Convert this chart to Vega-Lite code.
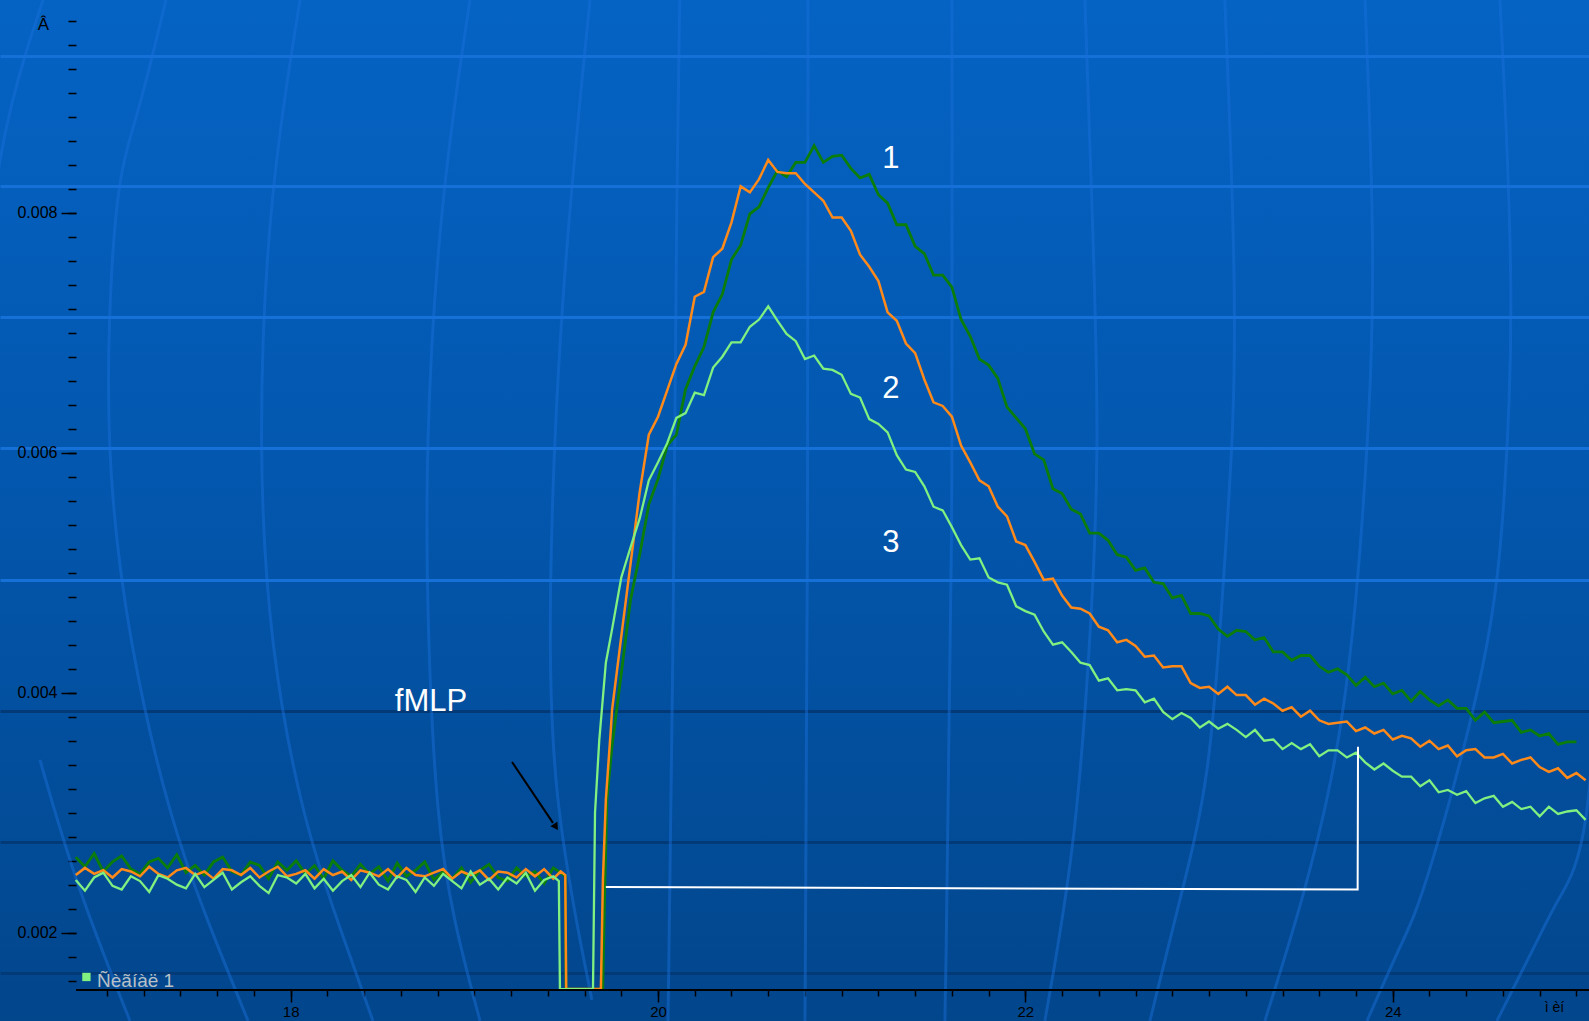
{
"$schema": "https://vega.github.io/schema/vega-lite/v6.json",
"width": 1589, "height": 1021, "autosize": "none", "padding": 0,
"background": "#0354a8",
"config": {
  "view": {"stroke": null, "fill": {"gradient": "linear", "x1": 0, "y1": 0, "x2": 0, "y2": 1, "stops": [{"offset": 0, "color": "#0563c4"}, {"offset": 0.5, "color": "#0356ac"}, {"offset": 1, "color": "#02468c"}]}},
  "axis": {"labelFont": "Liberation Sans", "titleFont": "Liberation Sans"},
  "text": {"font": "Liberation Sans"}
},
"datasets": {
"deco": [
{"id":"L0a","i":0,"t":16.652,"v":0.009773},{"id":"L0a","i":1,"t":16.434,"v":0.008773},{"id":"L0a","i":2,"t":16.309,"v":0.007273},
{"id":"L0b","i":0,"t":16.635,"v":0.00344},{"id":"L0b","i":1,"t":16.831,"v":0.002398},{"id":"L0b","i":2,"t":17.125,"v":0.001265},
{"id":"L1","i":0,"t":17.321,"v":0.009773},{"id":"L1","i":1,"t":17.163,"v":0.008773},{"id":"L1","i":2,"t":17.06,"v":0.008356},{"id":"L1","i":3,"t":17.005,"v":0.007106},{"id":"L1","i":4,"t":17.005,"v":0.005856},{"id":"L1","i":5,"t":17.114,"v":0.00444},{"id":"L1","i":6,"t":17.343,"v":0.00294},{"id":"L1","i":7,"t":17.544,"v":0.002106},{"id":"L1","i":8,"t":17.768,"v":0.001265},
{"id":"L2","i":0,"t":18.051,"v":0.009773},{"id":"L2","i":1,"t":17.876,"v":0.008106},{"id":"L2","i":2,"t":17.822,"v":0.006023},{"id":"L2","i":3,"t":17.887,"v":0.004356},{"id":"L2","i":4,"t":18.067,"v":0.00294},{"id":"L2","i":5,"t":18.252,"v":0.002106},{"id":"L2","i":6,"t":18.448,"v":0.001265},
{"id":"L3","i":0,"t":18.976,"v":0.009773},{"id":"L3","i":1,"t":18.813,"v":0.008106},{"id":"L3","i":2,"t":18.731,"v":0.006023},{"id":"L3","i":3,"t":18.748,"v":0.004356},{"id":"L3","i":4,"t":18.796,"v":0.00294},{"id":"L3","i":5,"t":18.884,"v":0.002106},{"id":"L3","i":6,"t":19.031,"v":0.001265},
{"id":"L4","i":0,"t":19.63,"v":0.009773},{"id":"L4","i":1,"t":19.466,"v":0.007273},{"id":"L4","i":2,"t":19.401,"v":0.004773},{"id":"L4","i":3,"t":19.423,"v":0.003106},{"id":"L4","i":4,"t":19.64,"v":0.00144},
{"id":"M0","i":0,"t":20.119,"v":0.009773},{"id":"M0","i":1,"t":20.103,"v":0.008606},{"id":"M0","i":2,"t":20.081,"v":0.00394},{"id":"M0","i":3,"t":20.054,"v":0.001265},
{"id":"M1","i":0,"t":20.816,"v":0.009773},{"id":"M1","i":1,"t":20.816,"v":0.00519},{"id":"M1","i":2,"t":20.8,"v":0.001265},
{"id":"M2","i":0,"t":21.6,"v":0.009773},{"id":"M2","i":1,"t":21.606,"v":0.00519},{"id":"M2","i":2,"t":21.562,"v":0.001265},
{"id":"M3","i":0,"t":22.324,"v":0.009773},{"id":"M3","i":1,"t":22.362,"v":0.008106},{"id":"M3","i":2,"t":22.406,"v":0.006023},{"id":"M3","i":3,"t":22.351,"v":0.004356},{"id":"M3","i":4,"t":22.27,"v":0.00269},{"id":"M3","i":5,"t":22.106,"v":0.001265},
{"id":"M4","i":0,"t":23.086,"v":0.009773},{"id":"M4","i":1,"t":23.141,"v":0.00769},{"id":"M4","i":2,"t":23.141,"v":0.006273},{"id":"M4","i":3,"t":23.07,"v":0.004773},{"id":"M4","i":4,"t":23.005,"v":0.003273},{"id":"M4","i":5,"t":22.841,"v":0.002273},{"id":"M4","i":6,"t":22.678,"v":0.001265},
{"id":"R1","i":0,"t":23.849,"v":0.009773},{"id":"R1","i":1,"t":23.903,"v":0.00769},{"id":"R1","i":2,"t":23.876,"v":0.006273},{"id":"R1","i":3,"t":23.783,"v":0.004356},{"id":"R1","i":4,"t":23.674,"v":0.003273},{"id":"R1","i":5,"t":23.511,"v":0.002273},{"id":"R1","i":6,"t":23.304,"v":0.001265},
{"id":"R2","i":0,"t":24.584,"v":0.009773},{"id":"R2","i":1,"t":24.665,"v":0.007273},{"id":"R2","i":2,"t":24.611,"v":0.005606},{"id":"R2","i":3,"t":24.54,"v":0.004356},{"id":"R2","i":4,"t":24.164,"v":0.002273},{"id":"R2","i":5,"t":24.055,"v":0.00194},{"id":"R2","i":6,"t":23.86,"v":0.001265},
{"id":"R3","i":0,"t":25.128,"v":0.004773},{"id":"R3","i":1,"t":25.073,"v":0.00269},{"id":"R3","i":2,"t":24.894,"v":0.002273},{"id":"R3","i":3,"t":24.79,"v":0.00194},{"id":"R3","i":4,"t":24.567,"v":0.001265}
],
"sig": [
{"s":1,"t":16.83,"v":0.00263},{"s":1,"t":16.88,"v":0.00255},{"s":1,"t":16.93,"v":0.00266},{"s":1,"t":16.98,"v":0.00251},{"s":1,"t":17.03,"v":0.00259},{"s":1,"t":17.08,"v":0.00264},{"s":1,"t":17.13,"v":0.00253},{"s":1,"t":17.18,"v":0.00249},{"s":1,"t":17.23,"v":0.00259},{"s":1,"t":17.28,"v":0.00262},
{"s":1,"t":17.33,"v":0.00254},{"s":1,"t":17.38,"v":0.00265},{"s":1,"t":17.43,"v":0.0025},{"s":1,"t":17.48,"v":0.00256},{"s":1,"t":17.53,"v":0.00248},{"s":1,"t":17.58,"v":0.00259},{"s":1,"t":17.63,"v":0.00263},{"s":1,"t":17.68,"v":0.00251},{"s":1,"t":17.73,"v":0.00248},{"s":1,"t":17.78,"v":0.00259},
{"s":1,"t":17.83,"v":0.00256},{"s":1,"t":17.88,"v":0.00245},{"s":1,"t":17.93,"v":0.00259},{"s":1,"t":17.98,"v":0.00252},{"s":1,"t":18.03,"v":0.0026},{"s":1,"t":18.08,"v":0.00249},{"s":1,"t":18.13,"v":0.00256},{"s":1,"t":18.18,"v":0.00245},{"s":1,"t":18.23,"v":0.0026},{"s":1,"t":18.28,"v":0.00252},
{"s":1,"t":18.33,"v":0.00247},{"s":1,"t":18.38,"v":0.00257},{"s":1,"t":18.43,"v":0.00249},{"s":1,"t":18.48,"v":0.00255},{"s":1,"t":18.53,"v":0.00243},{"s":1,"t":18.58,"v":0.00258},{"s":1,"t":18.63,"v":0.00247},{"s":1,"t":18.68,"v":0.00252},{"s":1,"t":18.73,"v":0.00259},{"s":1,"t":18.78,"v":0.00244},
{"s":1,"t":18.83,"v":0.00251},{"s":1,"t":18.88,"v":0.00245},{"s":1,"t":18.93,"v":0.00254},{"s":1,"t":18.98,"v":0.00242},{"s":1,"t":19.03,"v":0.00252},{"s":1,"t":19.08,"v":0.00257},{"s":1,"t":19.13,"v":0.00246},{"s":1,"t":19.18,"v":0.00243},{"s":1,"t":19.23,"v":0.00254},{"s":1,"t":19.28,"v":0.00247},
{"s":1,"t":19.33,"v":0.00251},{"s":1,"t":19.38,"v":0.00241},{"s":1,"t":19.43,"v":0.00254},{"s":1,"t":19.47,"v":0.0025},{"s":1,"t":19.495,"v":0.00247},{"s":1,"t":19.499,"v":0.00153},{"s":1,"t":19.699,"v":0.00153},{"s":1,"t":19.711,"v":0.00244},{"s":1,"t":19.722,"v":0.00311},
{"s":1,"t":19.75,"v":0.00356},{"s":1,"t":19.8,"v":0.00416},{"s":1,"t":19.85,"v":0.00477},{"s":1,"t":19.9,"v":0.00515},{"s":1,"t":19.95,"v":0.00557},{"s":1,"t":20,"v":0.00578},{"s":1,"t":20.05,"v":0.00606},{"s":1,"t":20.1,"v":0.00615},{"s":1,"t":20.15,"v":0.00653},{"s":1,"t":20.2,"v":0.00672},
{"s":1,"t":20.25,"v":0.00688},{"s":1,"t":20.3,"v":0.00717},{"s":1,"t":20.35,"v":0.00732},{"s":1,"t":20.4,"v":0.00761},{"s":1,"t":20.45,"v":0.00773},{"s":1,"t":20.5,"v":0.00799},{"s":1,"t":20.55,"v":0.00805},{"s":1,"t":20.6,"v":0.00821},{"s":1,"t":20.65,"v":0.00835},{"s":1,"t":20.7,"v":0.0083},
{"s":1,"t":20.75,"v":0.00842},{"s":1,"t":20.8,"v":0.00842},{"s":1,"t":20.85,"v":0.00856},{"s":1,"t":20.9,"v":0.00842},{"s":1,"t":20.95,"v":0.00847},{"s":1,"t":21,"v":0.00848},{"s":1,"t":21.05,"v":0.00837},{"s":1,"t":21.1,"v":0.00829},{"s":1,"t":21.15,"v":0.00832},{"s":1,"t":21.2,"v":0.00815},
{"s":1,"t":21.25,"v":0.00808},{"s":1,"t":21.3,"v":0.0079},{"s":1,"t":21.35,"v":0.0079},{"s":1,"t":21.4,"v":0.00772},{"s":1,"t":21.45,"v":0.00766},{"s":1,"t":21.5,"v":0.00748},{"s":1,"t":21.55,"v":0.00748},{"s":1,"t":21.6,"v":0.00738},{"s":1,"t":21.65,"v":0.00711},{"s":1,"t":21.7,"v":0.00697},
{"s":1,"t":21.75,"v":0.00678},{"s":1,"t":21.8,"v":0.00673},{"s":1,"t":21.85,"v":0.00662},{"s":1,"t":21.9,"v":0.00638},{"s":1,"t":21.95,"v":0.00629},{"s":1,"t":22,"v":0.0062},{"s":1,"t":22.05,"v":0.00599},{"s":1,"t":22.1,"v":0.00594},{"s":1,"t":22.15,"v":0.0057},{"s":1,"t":22.2,"v":0.00566},
{"s":1,"t":22.25,"v":0.00553},{"s":1,"t":22.3,"v":0.00549},{"s":1,"t":22.35,"v":0.00533},{"s":1,"t":22.4,"v":0.00533},{"s":1,"t":22.45,"v":0.00527},{"s":1,"t":22.5,"v":0.00515},{"s":1,"t":22.55,"v":0.00513},{"s":1,"t":22.6,"v":0.00502},{"s":1,"t":22.65,"v":0.00504},{"s":1,"t":22.7,"v":0.00492},
{"s":1,"t":22.75,"v":0.00491},{"s":1,"t":22.8,"v":0.00479},{"s":1,"t":22.85,"v":0.00481},{"s":1,"t":22.9,"v":0.00466},{"s":1,"t":22.95,"v":0.00466},{"s":1,"t":23,"v":0.00464},{"s":1,"t":23.05,"v":0.00453},{"s":1,"t":23.1,"v":0.00447},{"s":1,"t":23.15,"v":0.00452},{"s":1,"t":23.2,"v":0.00451},
{"s":1,"t":23.25,"v":0.00444},{"s":1,"t":23.3,"v":0.00446},{"s":1,"t":23.35,"v":0.00434},{"s":1,"t":23.4,"v":0.00434},{"s":1,"t":23.45,"v":0.00427},{"s":1,"t":23.5,"v":0.00431},{"s":1,"t":23.55,"v":0.00431},{"s":1,"t":23.6,"v":0.00422},{"s":1,"t":23.65,"v":0.00417},{"s":1,"t":23.7,"v":0.0042},
{"s":1,"t":23.75,"v":0.00415},{"s":1,"t":23.8,"v":0.00406},{"s":1,"t":23.85,"v":0.00413},{"s":1,"t":23.9,"v":0.00405},{"s":1,"t":23.95,"v":0.00408},{"s":1,"t":24,"v":0.00399},{"s":1,"t":24.05,"v":0.00402},{"s":1,"t":24.1,"v":0.00393},{"s":1,"t":24.15,"v":0.00401},{"s":1,"t":24.2,"v":0.00394},
{"s":1,"t":24.25,"v":0.00389},{"s":1,"t":24.3,"v":0.00394},{"s":1,"t":24.35,"v":0.00387},{"s":1,"t":24.4,"v":0.00387},{"s":1,"t":24.45,"v":0.00377},{"s":1,"t":24.5,"v":0.00384},{"s":1,"t":24.55,"v":0.00375},{"s":1,"t":24.6,"v":0.00376},{"s":1,"t":24.65,"v":0.00377},{"s":1,"t":24.7,"v":0.00367},
{"s":1,"t":24.75,"v":0.00369},{"s":1,"t":24.8,"v":0.00364},{"s":1,"t":24.85,"v":0.00366},{"s":1,"t":24.9,"v":0.00357},{"s":1,"t":24.95,"v":0.00359},{"s":1,"t":25,"v":0.00359},

{"s":2,"t":16.83,"v":0.00248},{"s":2,"t":16.88,"v":0.00254},{"s":2,"t":16.93,"v":0.00249},{"s":2,"t":16.98,"v":0.00252},{"s":2,"t":17.03,"v":0.00246},{"s":2,"t":17.08,"v":0.00253},{"s":2,"t":17.13,"v":0.00251},{"s":2,"t":17.18,"v":0.00247},{"s":2,"t":17.23,"v":0.00255},{"s":2,"t":17.28,"v":0.00249},
{"s":2,"t":17.33,"v":0.00246},{"s":2,"t":17.38,"v":0.00252},{"s":2,"t":17.43,"v":0.00254},{"s":2,"t":17.48,"v":0.00248},{"s":2,"t":17.53,"v":0.00251},{"s":2,"t":17.58,"v":0.00245},{"s":2,"t":17.63,"v":0.00253},{"s":2,"t":17.68,"v":0.00252},{"s":2,"t":17.73,"v":0.00248},{"s":2,"t":17.78,"v":0.00254},
{"s":2,"t":17.83,"v":0.00246},{"s":2,"t":17.88,"v":0.00251},{"s":2,"t":17.93,"v":0.00255},{"s":2,"t":17.98,"v":0.00247},{"s":2,"t":18.03,"v":0.00249},{"s":2,"t":18.08,"v":0.00252},{"s":2,"t":18.13,"v":0.00245},{"s":2,"t":18.18,"v":0.00253},{"s":2,"t":18.23,"v":0.00248},{"s":2,"t":18.28,"v":0.00251},
{"s":2,"t":18.33,"v":0.00244},{"s":2,"t":18.38,"v":0.00252},{"s":2,"t":18.43,"v":0.0025},{"s":2,"t":18.48,"v":0.00247},{"s":2,"t":18.53,"v":0.00253},{"s":2,"t":18.58,"v":0.00246},{"s":2,"t":18.63,"v":0.00254},{"s":2,"t":18.68,"v":0.00248},{"s":2,"t":18.73,"v":0.00247},{"s":2,"t":18.78,"v":0.0025},
{"s":2,"t":18.83,"v":0.00253},{"s":2,"t":18.88,"v":0.00245},{"s":2,"t":18.93,"v":0.00251},{"s":2,"t":18.98,"v":0.00248},{"s":2,"t":19.03,"v":0.00252},{"s":2,"t":19.08,"v":0.00244},{"s":2,"t":19.13,"v":0.00251},{"s":2,"t":19.18,"v":0.0025},{"s":2,"t":19.23,"v":0.00246},{"s":2,"t":19.28,"v":0.00253},
{"s":2,"t":19.33,"v":0.00247},{"s":2,"t":19.38,"v":0.00253},{"s":2,"t":19.43,"v":0.00245},{"s":2,"t":19.47,"v":0.00251},{"s":2,"t":19.495,"v":0.00248},{"s":2,"t":19.5,"v":0.00153},{"s":2,"t":19.689,"v":0.00153},{"s":2,"t":19.7,"v":0.00244},{"s":2,"t":19.716,"v":0.00311},{"s":2,"t":19.743,"v":0.00369},
{"s":2,"t":19.75,"v":0.00386},{"s":2,"t":19.8,"v":0.00447},{"s":2,"t":19.85,"v":0.00507},{"s":2,"t":19.9,"v":0.00567},{"s":2,"t":19.95,"v":0.00615},{"s":2,"t":20,"v":0.0063},{"s":2,"t":20.05,"v":0.00652},{"s":2,"t":20.1,"v":0.00674},{"s":2,"t":20.15,"v":0.0069},{"s":2,"t":20.2,"v":0.0073},
{"s":2,"t":20.25,"v":0.00734},{"s":2,"t":20.3,"v":0.00763},{"s":2,"t":20.35,"v":0.0077},{"s":2,"t":20.4,"v":0.00792},{"s":2,"t":20.45,"v":0.00822},{"s":2,"t":20.5,"v":0.00817},{"s":2,"t":20.55,"v":0.00828},{"s":2,"t":20.6,"v":0.00844},{"s":2,"t":20.65,"v":0.00834},{"s":2,"t":20.7,"v":0.00833},
{"s":2,"t":20.75,"v":0.00833},{"s":2,"t":20.8,"v":0.00824},{"s":2,"t":20.85,"v":0.00817},{"s":2,"t":20.9,"v":0.0081},{"s":2,"t":20.95,"v":0.00796},{"s":2,"t":21,"v":0.00796},{"s":2,"t":21.05,"v":0.00785},{"s":2,"t":21.1,"v":0.00765},{"s":2,"t":21.15,"v":0.00755},{"s":2,"t":21.2,"v":0.00743},
{"s":2,"t":21.25,"v":0.00717},{"s":2,"t":21.3,"v":0.0071},{"s":2,"t":21.35,"v":0.00691},{"s":2,"t":21.4,"v":0.00683},{"s":2,"t":21.45,"v":0.00661},{"s":2,"t":21.5,"v":0.00642},{"s":2,"t":21.55,"v":0.00639},{"s":2,"t":21.6,"v":0.0063},{"s":2,"t":21.65,"v":0.00606},{"s":2,"t":21.7,"v":0.00592},
{"s":2,"t":21.75,"v":0.00577},{"s":2,"t":21.8,"v":0.00572},{"s":2,"t":21.85,"v":0.00555},{"s":2,"t":21.9,"v":0.00547},{"s":2,"t":21.95,"v":0.00526},{"s":2,"t":22,"v":0.00523},{"s":2,"t":22.05,"v":0.00509},{"s":2,"t":22.1,"v":0.00494},{"s":2,"t":22.15,"v":0.00495},{"s":2,"t":22.2,"v":0.00481},
{"s":2,"t":22.25,"v":0.00471},{"s":2,"t":22.3,"v":0.0047},{"s":2,"t":22.35,"v":0.00466},{"s":2,"t":22.4,"v":0.00455},{"s":2,"t":22.45,"v":0.00452},{"s":2,"t":22.5,"v":0.00442},{"s":2,"t":22.55,"v":0.00444},{"s":2,"t":22.6,"v":0.00439},{"s":2,"t":22.65,"v":0.0043},{"s":2,"t":22.7,"v":0.00431},
{"s":2,"t":22.75,"v":0.00421},{"s":2,"t":22.8,"v":0.00422},{"s":2,"t":22.85,"v":0.00422},{"s":2,"t":22.9,"v":0.00408},{"s":2,"t":22.95,"v":0.00404},{"s":2,"t":23,"v":0.00405},{"s":2,"t":23.05,"v":0.00399},{"s":2,"t":23.1,"v":0.00405},{"s":2,"t":23.15,"v":0.00398},{"s":2,"t":23.2,"v":0.00398},
{"s":2,"t":23.25,"v":0.0039},{"s":2,"t":23.3,"v":0.00395},{"s":2,"t":23.35,"v":0.00391},{"s":2,"t":23.4,"v":0.00385},{"s":2,"t":23.45,"v":0.00388},{"s":2,"t":23.5,"v":0.0038},{"s":2,"t":23.55,"v":0.00385},{"s":2,"t":23.6,"v":0.00377},{"s":2,"t":23.65,"v":0.00374},{"s":2,"t":23.7,"v":0.00375},
{"s":2,"t":23.75,"v":0.00376},{"s":2,"t":23.8,"v":0.00368},{"s":2,"t":23.85,"v":0.00371},{"s":2,"t":23.9,"v":0.00366},{"s":2,"t":23.95,"v":0.00369},{"s":2,"t":24,"v":0.00361},{"s":2,"t":24.05,"v":0.00364},{"s":2,"t":24.1,"v":0.00362},{"s":2,"t":24.15,"v":0.00355},{"s":2,"t":24.2,"v":0.0036},
{"s":2,"t":24.25,"v":0.00353},{"s":2,"t":24.3,"v":0.00356},{"s":2,"t":24.35,"v":0.00347},{"s":2,"t":24.4,"v":0.00352},{"s":2,"t":24.45,"v":0.00353},{"s":2,"t":24.5,"v":0.00346},{"s":2,"t":24.55,"v":0.00346},{"s":2,"t":24.6,"v":0.00349},{"s":2,"t":24.65,"v":0.00341},{"s":2,"t":24.7,"v":0.00344},
{"s":2,"t":24.75,"v":0.00346},{"s":2,"t":24.8,"v":0.00338},{"s":2,"t":24.85,"v":0.00334},{"s":2,"t":24.9,"v":0.00337},{"s":2,"t":24.95,"v":0.00329},{"s":2,"t":25,"v":0.00333},{"s":2,"t":25.05,"v":0.00327},

{"s":3,"t":16.83,"v":0.00244},{"s":3,"t":16.88,"v":0.00235},{"s":3,"t":16.93,"v":0.00246},{"s":3,"t":16.98,"v":0.0025},{"s":3,"t":17.03,"v":0.00239},{"s":3,"t":17.08,"v":0.00236},{"s":3,"t":17.13,"v":0.00247},{"s":3,"t":17.18,"v":0.00243},{"s":3,"t":17.23,"v":0.00234},{"s":3,"t":17.28,"v":0.00248},
{"s":3,"t":17.33,"v":0.00245},{"s":3,"t":17.38,"v":0.0024},{"s":3,"t":17.43,"v":0.00237},{"s":3,"t":17.48,"v":0.00249},{"s":3,"t":17.53,"v":0.00238},{"s":3,"t":17.58,"v":0.00244},{"s":3,"t":17.63,"v":0.0025},{"s":3,"t":17.68,"v":0.00236},{"s":3,"t":17.73,"v":0.00242},{"s":3,"t":17.78,"v":0.00247},
{"s":3,"t":17.83,"v":0.00239},{"s":3,"t":17.88,"v":0.00233},{"s":3,"t":17.93,"v":0.00248},{"s":3,"t":17.98,"v":0.00246},{"s":3,"t":18.03,"v":0.00241},{"s":3,"t":18.08,"v":0.00249},{"s":3,"t":18.13,"v":0.00237},{"s":3,"t":18.18,"v":0.00245},{"s":3,"t":18.23,"v":0.00235},{"s":3,"t":18.28,"v":0.00243},
{"s":3,"t":18.33,"v":0.00248},{"s":3,"t":18.38,"v":0.00238},{"s":3,"t":18.43,"v":0.0025},{"s":3,"t":18.48,"v":0.0024},{"s":3,"t":18.53,"v":0.00236},{"s":3,"t":18.58,"v":0.00247},{"s":3,"t":18.63,"v":0.00244},{"s":3,"t":18.68,"v":0.00234},{"s":3,"t":18.73,"v":0.00246},{"s":3,"t":18.78,"v":0.00239},
{"s":3,"t":18.83,"v":0.00249},{"s":3,"t":18.88,"v":0.00243},{"s":3,"t":18.93,"v":0.00237},{"s":3,"t":18.98,"v":0.00251},{"s":3,"t":19.03,"v":0.0024},{"s":3,"t":19.08,"v":0.00245},{"s":3,"t":19.13,"v":0.00236},{"s":3,"t":19.18,"v":0.00246},{"s":3,"t":19.23,"v":0.00241},{"s":3,"t":19.28,"v":0.0025},
{"s":3,"t":19.33,"v":0.00235},{"s":3,"t":19.38,"v":0.00244},{"s":3,"t":19.43,"v":0.00247},{"s":3,"t":19.46,"v":0.00243},{"s":3,"t":19.466,"v":0.00153},{"s":3,"t":19.646,"v":0.00153},{"s":3,"t":19.657,"v":0.003},{"s":3,"t":19.68,"v":0.0036},{"s":3,"t":19.716,"v":0.00425},
{"s":3,"t":19.75,"v":0.00453},{"s":3,"t":19.8,"v":0.00496},{"s":3,"t":19.85,"v":0.00521},{"s":3,"t":19.9,"v":0.00545},{"s":3,"t":19.95,"v":0.00577},{"s":3,"t":20,"v":0.00592},{"s":3,"t":20.05,"v":0.00608},{"s":3,"t":20.1,"v":0.00629},{"s":3,"t":20.15,"v":0.00633},{"s":3,"t":20.2,"v":0.0065},
{"s":3,"t":20.25,"v":0.00648},{"s":3,"t":20.3,"v":0.00671},{"s":3,"t":20.35,"v":0.0068},{"s":3,"t":20.4,"v":0.00692},{"s":3,"t":20.45,"v":0.00692},{"s":3,"t":20.5,"v":0.00705},{"s":3,"t":20.55,"v":0.00711},{"s":3,"t":20.6,"v":0.00722},{"s":3,"t":20.65,"v":0.0071},{"s":3,"t":20.7,"v":0.00699},
{"s":3,"t":20.75,"v":0.00693},{"s":3,"t":20.8,"v":0.00678},{"s":3,"t":20.85,"v":0.00681},{"s":3,"t":20.9,"v":0.0067},{"s":3,"t":20.95,"v":0.00669},{"s":3,"t":21,"v":0.00665},{"s":3,"t":21.05,"v":0.00649},{"s":3,"t":21.1,"v":0.00646},{"s":3,"t":21.15,"v":0.00628},{"s":3,"t":21.2,"v":0.00624},
{"s":3,"t":21.25,"v":0.00617},{"s":3,"t":21.3,"v":0.00598},{"s":3,"t":21.35,"v":0.00586},{"s":3,"t":21.4,"v":0.00584},{"s":3,"t":21.45,"v":0.00572},{"s":3,"t":21.5,"v":0.00555},{"s":3,"t":21.55,"v":0.00552},{"s":3,"t":21.6,"v":0.00538},{"s":3,"t":21.65,"v":0.00523},{"s":3,"t":21.7,"v":0.00511},
{"s":3,"t":21.75,"v":0.00512},{"s":3,"t":21.8,"v":0.00496},{"s":3,"t":21.85,"v":0.00492},{"s":3,"t":21.9,"v":0.0049},{"s":3,"t":21.95,"v":0.00472},{"s":3,"t":22,"v":0.00468},{"s":3,"t":22.05,"v":0.00465},{"s":3,"t":22.1,"v":0.00451},{"s":3,"t":22.15,"v":0.0044},{"s":3,"t":22.2,"v":0.00442},
{"s":3,"t":22.25,"v":0.00434},{"s":3,"t":22.3,"v":0.00425},{"s":3,"t":22.35,"v":0.00423},{"s":3,"t":22.4,"v":0.0041},{"s":3,"t":22.45,"v":0.00412},{"s":3,"t":22.5,"v":0.00402},{"s":3,"t":22.55,"v":0.00403},{"s":3,"t":22.6,"v":0.00402},{"s":3,"t":22.65,"v":0.00392},{"s":3,"t":22.7,"v":0.00395},
{"s":3,"t":22.75,"v":0.00384},{"s":3,"t":22.8,"v":0.00378},{"s":3,"t":22.85,"v":0.00383},{"s":3,"t":22.9,"v":0.00379},{"s":3,"t":22.95,"v":0.00371},{"s":3,"t":23,"v":0.00376},{"s":3,"t":23.05,"v":0.0037},{"s":3,"t":23.1,"v":0.00374},{"s":3,"t":23.15,"v":0.00369},{"s":3,"t":23.2,"v":0.00363},
{"s":3,"t":23.25,"v":0.00369},{"s":3,"t":23.3,"v":0.0036},{"s":3,"t":23.35,"v":0.00361},{"s":3,"t":23.4,"v":0.00353},{"s":3,"t":23.45,"v":0.00358},{"s":3,"t":23.5,"v":0.00353},{"s":3,"t":23.55,"v":0.00357},{"s":3,"t":23.6,"v":0.00347},{"s":3,"t":23.65,"v":0.00352},{"s":3,"t":23.7,"v":0.00352},
{"s":3,"t":23.75,"v":0.00346},{"s":3,"t":23.8,"v":0.0035},{"s":3,"t":23.85,"v":0.00342},{"s":3,"t":23.9,"v":0.00336},{"s":3,"t":23.95,"v":0.00341},{"s":3,"t":24,"v":0.00335},{"s":3,"t":24.05,"v":0.0033},{"s":3,"t":24.1,"v":0.0033},{"s":3,"t":24.15,"v":0.00322},{"s":3,"t":24.2,"v":0.00327},
{"s":3,"t":24.25,"v":0.00317},{"s":3,"t":24.3,"v":0.00319},{"s":3,"t":24.35,"v":0.00315},{"s":3,"t":24.4,"v":0.00318},{"s":3,"t":24.45,"v":0.00308},{"s":3,"t":24.5,"v":0.00312},{"s":3,"t":24.55,"v":0.00314},{"s":3,"t":24.6,"v":0.00305},{"s":3,"t":24.65,"v":0.00309},{"s":3,"t":24.7,"v":0.00303},
{"s":3,"t":24.75,"v":0.00305},{"s":3,"t":24.8,"v":0.00297},{"s":3,"t":24.85,"v":0.00305},{"s":3,"t":24.9,"v":0.00299},{"s":3,"t":24.95,"v":0.00301},{"s":3,"t":25,"v":0.00302},{"s":3,"t":25.05,"v":0.00294},

{"s":4,"t":19.716,"v":0.00238},{"s":4,"t":23.809,"v":0.00236},{"s":4,"t":23.811,"v":0.00355}
]},
"resolve": {"axis": {"x": "independent", "y": "independent"}},
"layer": [
{"data": {"name": "deco"},
 "mark": {"type": "line", "color": "#1a72dc", "strokeWidth": 3, "opacity": 0.45, "interpolate": "basis", "clip": true},
 "encoding": {
  "x": {"field": "t", "type": "quantitative", "scale": {"domain": [16.4175, 25.0686], "nice": false, "zero": false}, "axis": null},
  "y": {"field": "v", "type": "quantitative", "scale": {"domain": [0.001264, 0.009773], "nice": false, "zero": false}, "axis": null},
  "detail": {"field": "id", "type": "nominal"},
  "order": {"field": "i", "type": "quantitative"}}},
{"data": {"name": "sig"}, "transform": [{"filter": "datum.s == 1"}],
 "mark": {"type": "line", "color": "#0b7d0b", "strokeWidth": 2.8},
 "encoding": {
  "x": {"field": "t", "type": "quantitative", "scale": {"domain": [16.4175, 25.0686], "nice": false, "zero": false}, "axis": null},
  "y": {"field": "v", "type": "quantitative", "scale": {"domain": [0.001264, 0.009773], "nice": false, "zero": false},
        "axis": {"orient": "left", "values": [0.009309, 0.008219, 0.007127, 0.006036, 0.00494, 0.003848, 0.002756, 0.001665], "grid": true,
                 "gridColor": {"condition": {"test": "datum.value < 0.0043", "value": "#023a78"}, "value": "#1570d8"},
                 "gridWidth": 3, "gridOpacity": 1, "domain": false, "ticks": false, "labels": false, "title": null}}}},
{"data": {"name": "sig"}, "transform": [{"filter": "datum.s == 2"}],
 "mark": {"type": "line", "color": "#ff8a1a", "strokeWidth": 2.5},
 "encoding": {
  "x": {"field": "t", "type": "quantitative", "scale": {"domain": [16.4175, 25.0686], "nice": false, "zero": false},
        "axis": {"orient": "bottom", "offset": -31, "values": [17,17.2,17.4,17.6,17.8,18,18.2,18.4,18.6,18.8,19,19.2,19.4,19.6,19.8,20,20.2,20.4,20.6,20.8,21,21.2,21.4,21.6,21.8,22,22.2,22.4,22.6,22.8,23,23.2,23.4,23.6,23.8,24,24.2,24.4,24.6,24.8,25],
                 "labels": false, "domain": false, "grid": false, "tickSize": 6, "tickColor": "#000000", "tickWidth": 1.5, "title": null}},
  "y": {"field": "v", "type": "quantitative", "scale": {"domain": [0.001264, 0.009773], "nice": false, "zero": false},
        "axis": {"orient": "left", "offset": -76, "values": [0.0016,0.0018,0.002,0.0022,0.0024,0.0026,0.0028,0.003,0.0032,0.0034,0.0036,0.0038,0.004,0.0042,0.0044,0.0046,0.0048,0.005,0.0052,0.0054,0.0056,0.0058,0.006,0.0062,0.0064,0.0066,0.0068,0.007,0.0072,0.0074,0.0076,0.0078,0.008,0.0082,0.0084,0.0086,0.0088,0.009,0.0092,0.0094,0.0096],
                 "labels": false, "domain": false, "grid": false, "tickSize": 8, "tickColor": "#000000", "tickWidth": 1.5, "title": null}}}},
{"data": {"name": "sig"}, "transform": [{"filter": "datum.s == 3"}],
 "mark": {"type": "line", "color": "#80f080", "strokeWidth": 2.3},
 "encoding": {
  "x": {"field": "t", "type": "quantitative", "scale": {"domain": [16.4175, 25.0686], "nice": false, "zero": false},
        "axis": {"orient": "bottom", "offset": -31, "values": [18, 20, 22, 24], "format": "d", "domain": false, "grid": false,
                 "tickSize": 12, "tickColor": "#000000", "tickWidth": 1.5, "labelFontSize": 15, "labelColor": "#000000", "labelPadding": 2,
                 "title": "ì èí", "titleX": 1554, "titleY": 21, "titleFontSize": 14, "titleFontWeight": "normal", "titleColor": "#000000", "titleAlign": "center", "titleBaseline": "alphabetic"}},
  "y": {"field": "v", "type": "quantitative", "scale": {"domain": [0.001264, 0.009773], "nice": false, "zero": false},
        "axis": {"orient": "left", "offset": -76, "values": [0.002, 0.004, 0.006, 0.008], "format": ".3f", "domain": false, "grid": false,
                 "tickSize": 15, "tickColor": "#000000", "tickWidth": 1.5, "labelFontSize": 16, "labelColor": "#000000", "labelPadding": 4,
                 "title": "Â", "titleX": -33, "titleY": 29, "titleAngle": 0, "titleFontSize": 17, "titleFontWeight": "normal", "titleColor": "#000000", "titleAlign": "center", "titleBaseline": "alphabetic"}}}},
{"data": {"name": "sig"}, "transform": [{"filter": "datum.s == 4"}],
 "mark": {"type": "line", "color": "#ffffff", "strokeWidth": 2},
 "encoding": {
  "x": {"field": "t", "type": "quantitative", "scale": {"domain": [16.4175, 25.0686], "nice": false, "zero": false}, "axis": null},
  "y": {"field": "v", "type": "quantitative", "scale": {"domain": [0.001264, 0.009773], "nice": false, "zero": false}, "axis": null}}},
{"data": {"values": [{}]},
 "mark": {"type": "rule", "color": "#000000", "strokeWidth": 2},
 "encoding": {
  "x": {"datum": 16.831, "type": "quantitative", "axis": null}, "x2": {"datum": 25.0686},
  "y": {"datum": 0.001523, "type": "quantitative", "axis": null}}},
{"data": {"values": [{}]},
 "mark": {"type": "rule", "color": "#000000", "strokeWidth": 2},
 "encoding": {
  "x": {"datum": 19.205, "type": "quantitative", "axis": null}, "x2": {"datum": 19.428},
  "y": {"datum": 0.003423, "type": "quantitative", "axis": null}, "y2": {"datum": 0.002915}}},
{"data": {"values": [{}]},
 "mark": {"type": "point", "shape": "triangle-down", "filled": true, "color": "#000000", "size": 70, "angle": -34, "opacity": 1},
 "encoding": {
  "x": {"datum": 19.444, "type": "quantitative", "axis": null},
  "y": {"datum": 0.002881, "type": "quantitative", "axis": null}}},
{"data": {"values": [{}]},
 "mark": {"type": "text", "text": "1", "color": "#ffffff", "fontSize": 31, "align": "center", "baseline": "alphabetic"},
 "encoding": {"x": {"datum": 21.268, "type": "quantitative", "axis": null}, "y": {"datum": 0.008373, "type": "quantitative", "axis": null}}},
{"data": {"values": [{}]},
 "mark": {"type": "text", "text": "2", "color": "#ffffff", "fontSize": 31, "align": "center", "baseline": "alphabetic"},
 "encoding": {"x": {"datum": 21.268, "type": "quantitative", "axis": null}, "y": {"datum": 0.006456, "type": "quantitative", "axis": null}}},
{"data": {"values": [{}]},
 "mark": {"type": "text", "text": "3", "color": "#ffffff", "fontSize": 31, "align": "center", "baseline": "alphabetic"},
 "encoding": {"x": {"datum": 21.268, "type": "quantitative", "axis": null}, "y": {"datum": 0.005173, "type": "quantitative", "axis": null}}},
{"data": {"values": [{}]},
 "mark": {"type": "text", "text": "fMLP", "color": "#ffffff", "fontSize": 31, "align": "center", "baseline": "alphabetic"},
 "encoding": {"x": {"datum": 18.764, "type": "quantitative", "axis": null}, "y": {"datum": 0.003848, "type": "quantitative", "axis": null}}},
{"data": {"values": [{}]},
 "mark": {"type": "point", "shape": "square", "filled": true, "color": "#80f080", "size": 70, "opacity": 1},
 "encoding": {"x": {"datum": 16.888, "type": "quantitative", "axis": null}, "y": {"datum": 0.001631, "type": "quantitative", "axis": null}}},
{"data": {"values": [{}]},
 "mark": {"type": "text", "text": "Ñèãíàë 1", "color": "#b8c0c8", "fontSize": 19, "align": "left", "baseline": "alphabetic"},
 "encoding": {"x": {"datum": 16.946, "type": "quantitative", "axis": null}, "y": {"datum": 0.001544, "type": "quantitative", "axis": null}}}
]
}
